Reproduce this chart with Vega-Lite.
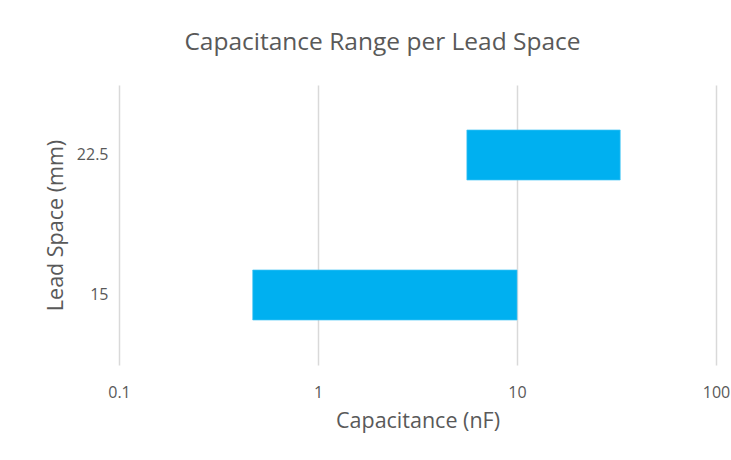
{
  "$schema": "https://vega.github.io/schema/vega-lite/v6.json",
  "width": 597,
  "height": 280,
  "autosize": {"type": "none"},
  "padding": {"left": 119, "top": 85, "right": 15, "bottom": 95},
  "background": "white",
  "title": {
    "text": "Capacitance Range per Lead Space",
    "font": "Open Sans",
    "fontSize": 24.5,
    "fontWeight": "normal",
    "color": "#595959",
    "anchor": "middle",
    "frame": "group",
    "dx": -35,
    "offset": 30
  },
  "data": {
    "values": [
      {"lead": "15", "min": 0.47, "max": 10},
      {"lead": "22.5", "min": 5.6, "max": 33}
    ]
  },
  "mark": {"type": "bar", "color": "#00b0f0", "stroke": "#3fc4f5", "strokeWidth": 0.7},
  "encoding": {
    "y": {
      "field": "lead",
      "type": "nominal",
      "sort": ["22.5", "15"],
      "scale": {"paddingInner": 0.643, "paddingOuter": 0.3215},
      "axis": {
        "title": "Lead Space (mm)",
        "titleFont": "Open Sans",
        "titleFontSize": 21.5,
        "titleFontWeight": "normal",
        "titleColor": "#595959",
        "titlePadding": 9,
        "labelFont": "Open Sans",
        "labelFontSize": 16,
        "labelColor": "#595959",
        "labelPadding": 11,
        "ticks": false,
        "domain": false,
        "grid": false
      }
    },
    "x": {
      "field": "min",
      "type": "quantitative",
      "scale": {"type": "log", "domain": [0.1, 100], "nice": false},
      "axis": {
        "title": "Capacitance (nF)",
        "titleFont": "Open Sans",
        "titleFontSize": 21.5,
        "titleFontWeight": "normal",
        "titleColor": "#595959",
        "titlePadding": 10,
        "labelFont": "Open Sans",
        "labelFontSize": 16,
        "labelColor": "#595959",
        "labelPadding": 19,
        "labelFlush": false,
        "labelOverlap": false,
        "values": [0.1, 1, 10, 100],
        "format": "~g",
        "ticks": false,
        "domain": false,
        "grid": true,
        "gridColor": "#d9d9d9",
        "gridWidth": 1.5
      }
    },
    "x2": {"field": "max"}
  },
  "config": {"view": {"stroke": null}}
}
